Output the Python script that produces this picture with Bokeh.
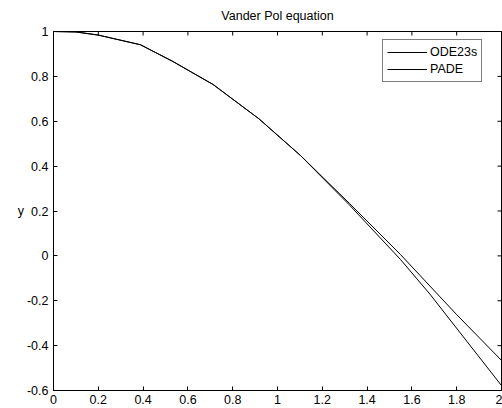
from bokeh.plotting import figure
from bokeh.models import Range1d, FixedTicker, Legend
from bokeh.embed import file_html
from bokeh.resources import INLINE

# ---- data ----
ode_x = [0, 0.1, 0.2, 0.388, 0.53, 0.712, 0.917, 1.103, 1.32, 1.549, 1.8, 2.0]
ode_y = [1, 0.998, 0.984, 0.941, 0.868, 0.764, 0.611, 0.447, 0.235, 0.006, -0.262, -0.466]
pade_x = [0, 0.1, 0.2, 0.388, 0.53, 0.712, 0.917, 1.103, 1.32, 1.549, 1.68, 2.0]
pade_y = [1, 0.998, 0.984, 0.941, 0.868, 0.764, 0.611, 0.447, 0.228, -0.016, -0.17, -0.578]

x_ticks = [0, 0.2, 0.4, 0.6, 0.8, 1, 1.2, 1.4, 1.6, 1.8, 2]
x_labels = ["0", "0.2", "0.4", "0.6", "0.8", "1", "1.2", "1.4", "1.6", "1.8", "2"]
y_ticks = [-0.6, -0.4, -0.2, 0, 0.2, 0.4, 0.6, 0.8, 1]
y_labels = ["-0.6", "-0.4", "-0.2", "0", "0.2", "0.4", "0.6", "0.8", "1"]
x_min, x_max = 0, 2
y_min, y_max = -0.6, 1

FONT = "Liberation Sans"
FS = "12.5px"

p = figure(width=502, height=408, output_backend="svg", toolbar_location=None,
           x_range=Range1d(x_min, x_max), y_range=Range1d(y_min, y_max),
           title="Vander Pol equation",
           min_border_left=53, min_border_right=1, min_border_top=31, min_border_bottom=18)

p.title.align = "center"
p.title.vertical_align = "top"
p.title.text_font = FONT
p.title.text_font_size = FS
p.title.text_font_style = "normal"
p.title.text_color = "black"
p.title.standoff = 14
p.title.offset = -5

p.outline_line_color = "black"
p.outline_line_alpha = 1
p.outline_line_width = 1
p.xgrid.visible = False
p.ygrid.visible = False
p.background_fill_color = "white"
p.border_fill_color = "white"

def style_axis(ax, ticks, labels):
    ax.ticker = FixedTicker(ticks=ticks)
    ax.major_label_overrides = {t: l for t, l in zip(ticks, labels)}
    ax.major_tick_in = 4
    ax.major_tick_out = 0
    ax.minor_tick_line_color = None
    ax.axis_line_color = "black"
    ax.major_tick_line_color = "black"
    ax.major_label_text_font = FONT
    ax.major_label_text_color = "black"
    ax.major_label_text_font_size = FS

style_axis(p.xaxis[0], x_ticks, x_labels)
p.xaxis[0].major_label_standoff = 4
style_axis(p.yaxis[0], y_ticks, y_labels)
p.yaxis[0].major_label_standoff = 5

yax = p.yaxis[0]
yax.axis_label = "y"
yax.axis_label_text_font = FONT
yax.axis_label_text_font_size = FS
yax.axis_label_text_font_style = "normal"
yax.axis_label_text_color = "black"
yax.axis_label_standoff = 0
try:
    yax.axis_label_orientation = "horizontal"
except Exception:
    pass

# inward ticks on the top and right edges (MATLAB box style)
p.scatter(x_ticks, [y_max] * len(x_ticks), marker="dash", angle=1.5707963, size=8,
          line_color="black", line_width=1)
p.scatter([x_max] * len(y_ticks), y_ticks, marker="dash", size=8,
          line_color="black", line_width=1)

r1 = p.line(ode_x, ode_y, line_color="black", line_width=1)
r2 = p.line(pade_x, pade_y, line_color="black", line_width=1)

legend = Legend(items=[("ODE23s", [r1]), ("PADE", [r2])], location=(329, 308))
legend.border_line_color = "black"
legend.border_line_width = 1
legend.background_fill_color = "white"
legend.background_fill_alpha = 1
legend.label_text_font = FONT
legend.label_text_font_size = FS
legend.label_text_color = "black"
legend.glyph_width = 40
legend.glyph_height = 16
legend.label_height = 16
legend.label_width = 44
legend.label_standoff = 3
legend.spacing = 1
legend.padding = 4
legend.margin = 0
p.add_layout(legend, "center")

open("out.html", "w").write(file_html(p, INLINE))
